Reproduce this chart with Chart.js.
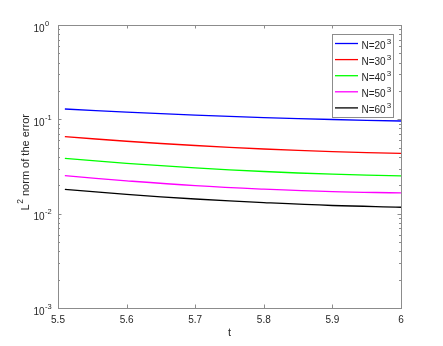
<!DOCTYPE html>
<html>
<head>
<meta charset="utf-8">
<script src="https://cdn.jsdelivr.net/npm/chart.js@4/dist/chart.umd.min.js"></script>
<style>
html,body{margin:0;padding:0;background:#fff;}
#wrap{width:443px;height:346px;position:relative;}
</style>
</head>
<body>
<div id="wrap"><canvas id="c" width="443" height="346"></canvas></div>
<script>
const tValues = [5.51, 5.6, 5.7, 5.8, 5.9, 6.0];
const seriesN20 = [0.1287, 0.1193, 0.1110, 0.1045, 0.0996, 0.0960];
const seriesN30 = [0.0655, 0.0586, 0.0528, 0.0485, 0.0455, 0.0436];
const seriesN40 = [0.0386, 0.0342, 0.0306, 0.0280, 0.0262, 0.0251];
const seriesN50 = [0.0253, 0.0223, 0.0198, 0.0182, 0.0171, 0.0166];
const seriesN60 = [0.0181, 0.0160, 0.0143, 0.0131, 0.0122, 0.0117];
const seriesLabels = ['N=20', 'N=30', 'N=40', 'N=50', 'N=60'];
const labelExponent = '3';
const seriesColors = ['#0000ff', '#ff0000', '#00ff00', '#ff00ff', '#000000'];
const xTicks = [5.5, 5.6, 5.7, 5.8, 5.9, 6];
const yTicks = [0.001, 0.01, 0.1, 1];
const yTickExponents = ['-3', '-2', '-1', '0'];
const yTitleParts = ['L', '2', ' norm of the error'];
const xTitle = 't';

const allSeries = [seriesN20, seriesN30, seriesN40, seriesN50, seriesN60];
const datasets = allSeries.map((s, i) => ({
  label: seriesLabels[i],
  data: s.map((v, j) => ({x: tValues[j], y: v})),
  borderColor: seriesColors[i],
  backgroundColor: seriesColors[i],
  borderWidth: 1.3,
  pointRadius: 0,
  fill: false,
  tension: 0.4
}));

const FONT = '"Liberation Sans", Arial, Helvetica, sans-serif';
const AXC = '#8c8c8c';
const TXT = '#262626';

const boxPlugin = {
  id: 'boxPlugin',
  afterDatasetsDraw(chart) {
    const {ctx, chartArea: a, scales} = chart;
    const xs = scales.x, ys = scales.y;
    ctx.save();
    ctx.strokeStyle = AXC;
    ctx.lineWidth = 1;
    ctx.strokeRect(Math.round(a.left) + 0.5, Math.round(a.top) + 0.5, Math.round(a.right - a.left), Math.round(a.bottom - a.top));
    ctx.beginPath();
    xTicks.forEach(t => {
      const px = Math.round(xs.getPixelForValue(t)) + 0.5;
      ctx.moveTo(px, a.bottom); ctx.lineTo(px, a.bottom - 3.5);
      ctx.moveTo(px, a.top); ctx.lineTo(px, a.top + 3.5);
    });
    for (let e = -3; e < 0; e++) {
      for (let m = 1; m <= 9; m++) {
        const v = m * Math.pow(10, e);
        const py = Math.round(ys.getPixelForValue(v)) + 0.5;
        const len = m === 1 ? 3.5 : 2;
        ctx.moveTo(a.left, py); ctx.lineTo(a.left + len, py);
        ctx.moveTo(a.right, py); ctx.lineTo(a.right - len, py);
      }
    }
    ctx.stroke();

    // y tick labels 10^n
    ctx.fillStyle = TXT;
    ctx.textBaseline = 'middle';
    yTicks.forEach((v, i) => {
      const py = ys.getPixelForValue(v);
      ctx.font = '10px ' + FONT;
      ctx.textAlign = 'right';
      ctx.fillText('10', 44.5, py + 4);
      ctx.font = '7.5px ' + FONT;
      ctx.textAlign = 'left';
      ctx.fillText(yTickExponents[i], 45, py - 1.5);
    });

    // y title
    ctx.save();
    ctx.translate(29, (a.top + a.bottom) / 2 - 4);
    ctx.rotate(-Math.PI / 2);
    ctx.textBaseline = 'alphabetic';
    ctx.textAlign = 'left';
    ctx.font = '11px ' + FONT;
    const w0 = ctx.measureText(yTitleParts[0]).width;
    const w2 = ctx.measureText(yTitleParts[2]).width;
    ctx.font = '8.5px ' + FONT;
    const w1 = ctx.measureText(yTitleParts[1]).width;
    const total = w0 + w1 + w2;
    let x0 = -total / 2;
    ctx.font = '11px ' + FONT;
    ctx.fillText(yTitleParts[0], x0, 0);
    ctx.font = '8.5px ' + FONT;
    ctx.fillText(yTitleParts[1], x0 + w0 + 0.5, -6);
    ctx.font = '11px ' + FONT;
    ctx.fillText(yTitleParts[2], x0 + w0 + w1 + 0.5, 0);
    ctx.restore();

    // legend box
    const lx = 332, ly = 34, lw = 61, lh = 83;
    ctx.fillStyle = '#ffffff';
    ctx.fillRect(lx, ly, lw, lh);
    ctx.strokeStyle = AXC;
    ctx.lineWidth = 1;
    ctx.strokeRect(lx + 0.5, ly + 0.5, lw, lh);
    chart.data.datasets.forEach((ds, i) => {
      const yy = 43.5 + i * 16.1;
      ctx.strokeStyle = ds.borderColor;
      ctx.lineWidth = 1.3;
      ctx.beginPath();
      ctx.moveTo(335, yy); ctx.lineTo(358, yy);
      ctx.stroke();
      ctx.fillStyle = TXT;
      ctx.font = '10px ' + FONT;
      ctx.textAlign = 'left';
      ctx.textBaseline = 'middle';
      ctx.fillText(ds.label, 361.5, yy + 2.5);
      const w = ctx.measureText(ds.label).width;
      ctx.font = '8px ' + FONT;
      ctx.fillText(labelExponent, 361.5 + w + 1, yy - 2);
    });
    ctx.restore();
  }
};

new Chart(document.getElementById('c'), {
  type: 'line',
  data: { datasets },
  options: {
    responsive: false,
    animation: false,
    devicePixelRatio: 1,
    layout: { padding: { top: 25, right: 42, left: 0, bottom: 0 } },
    plugins: { legend: { display: false }, tooltip: { enabled: false } },
    scales: {
      x: {
        type: 'linear',
        min: 5.5, max: 6,
        afterBuildTicks(s) { s.ticks = xTicks.map(v => ({value: v})); },
        afterFit(s) { s.height = 38; },
        grid: { display: false, drawTicks: false },
        border: { display: false },
        ticks: {
          color: TXT, font: { family: FONT, size: 10 }, padding: 6,
          maxRotation: 0, autoSkip: false,
          callback: v => String(v)
        },
        title: { display: true, text: xTitle, color: TXT, font: { family: FONT, size: 11 }, padding: { top: 0, bottom: 6 } }
      },
      y: {
        type: 'logarithmic',
        min: 0.001, max: 1,
        afterBuildTicks(s) { s.ticks = yTicks.map(v => ({value: v})); },
        afterFit(s) { s.width = 58; },
        grid: { display: false, drawTicks: false },
        border: { display: false },
        ticks: { display: false },
        title: { display: false }
      }
    }
  },
  plugins: [boxPlugin]
});
</script>
</body>
</html>
